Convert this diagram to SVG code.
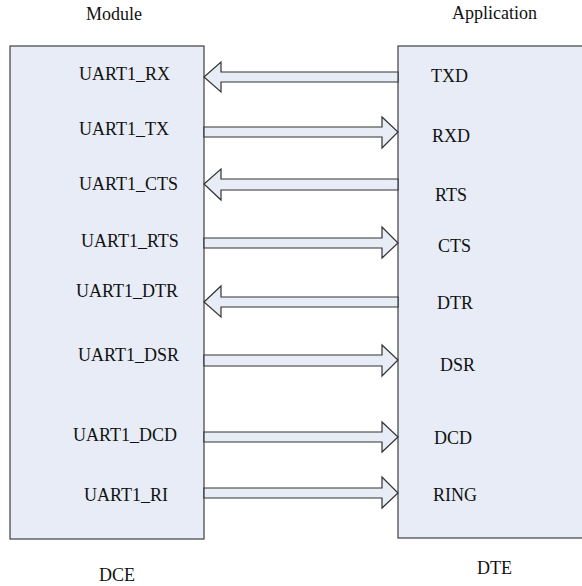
<svg xmlns="http://www.w3.org/2000/svg" width="582" height="586" viewBox="0 0 582 586">
<style>
.box{fill:#E7ECF6;stroke:#404040;stroke-width:1.2}
.arr{fill:#E7ECF6;stroke:#333333;stroke-width:1.2;stroke-linejoin:miter}
text{font-family:"Liberation Serif","Times New Roman",serif;font-size:18px;fill:#111111}
</style>
<rect width="582" height="586" fill="#ffffff"/>
<g id="module">
<rect class="box" x="10" y="46" width="194" height="493"/>
<text x="86" y="20">Module</text>
<text x="79" y="80">UART1_RX</text>
<text x="79" y="135">UART1_TX</text>
<text x="79" y="190">UART1_CTS</text>
<text x="81" y="247">UART1_RTS</text>
<text x="76" y="297">UART1_DTR</text>
<text x="78" y="361">UART1_DSR</text>
<text x="73" y="441">UART1_DCD</text>
<text x="84" y="501">UART1_RI</text>
<text x="99" y="581">DCE</text>
</g>
<g id="application">
<rect class="box" x="398" y="46" width="200" height="492"/>
<text x="452" y="19">Application</text>
<text x="431" y="82">TXD</text>
<text x="432" y="142">RXD</text>
<text x="435" y="201">RTS</text>
<text x="438" y="252">CTS</text>
<text x="437" y="309">DTR</text>
<text x="440" y="371">DSR</text>
<text x="434" y="444">DCD</text>
<text x="433" y="501">RING</text>
<text x="477" y="574">DTE</text>
</g>
<g id="connectors">
<polygon class="arr" points="204,77 221,62 221,72 398,72 398,82 221,82 221,92"/>
<polygon class="arr" points="204,127 382,127 382,117 398,132 382,148 382,137 204,137"/>
<polygon class="arr" points="204,184 221,169 221,179 398,179 398,190 221,190 221,200"/>
<polygon class="arr" points="204,238 382,238 382,227 398,243 382,258 382,248 204,248"/>
<polygon class="arr" points="204,302 221,286 221,297 398,297 398,307 221,307 221,317"/>
<polygon class="arr" points="204,355 382,355 382,345 398,360 382,376 382,366 204,366"/>
<polygon class="arr" points="204,432 382,432 382,422 398,437 382,452 382,442 204,442"/>
<polygon class="arr" points="204,488 382,488 382,477 398,493 382,508 382,498 204,498"/>
</g>
</svg>
